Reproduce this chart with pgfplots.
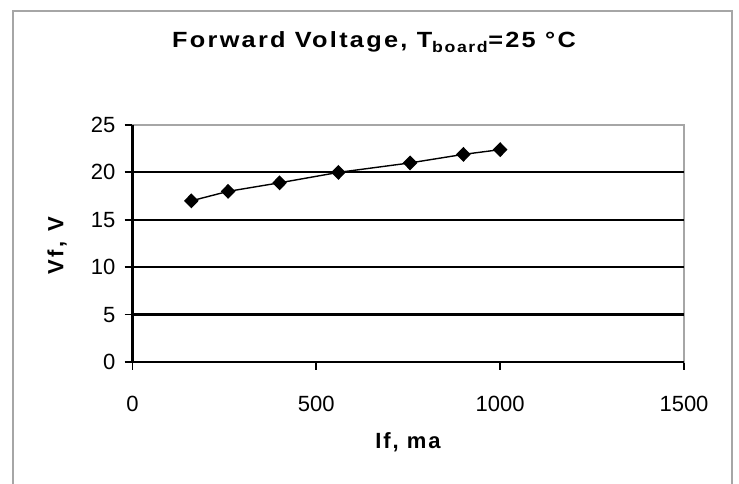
\documentclass[border=0pt]{standalone}
\usepackage{fontspec}
\setmainfont{Liberation Sans}
\usepackage{pgfplots}
\pgfplotsset{compat=1.18}

\begin{document}
\begin{tikzpicture}[x=1pt,y=1pt]
\path[use as bounding box] (0,0) rectangle (739,484);
\draw[gray!70,line width=2pt] (13,0) -- (13,473) -- (732,473) -- (732,0);
\begin{axis}[
  at={(132.5pt,122pt)}, anchor=south west,
  scale only axis, width=551.5pt, height=237pt,
  xmin=0, xmax=1500, ymin=0, ymax=25,
  xtick={0,500,1000,1500}, ytick={0,5,10,15,20,25},
  axis line style={draw=gray!70,line width=1.8pt},
  tick align=outside, major tick length=8pt,
  tick style={black,line width=1.8pt},
  xtick pos=bottom, ytick pos=left,
  /pgf/number format/assume math mode=true,
  /pgf/number format/1000 sep={},
  tick label style={font=\fontsize{22}{24}\selectfont},
  yticklabel style={inner xsep=0pt, xshift=-9pt},
  xticklabel style={anchor=base, yshift=-42pt},
  clip=false,
]
\foreach \v in {5,10,15,20} {
  \edef\tmp{\noexpand\draw[black,line width=2.2pt] (axis cs:0,\v) -- (axis cs:1500,\v);}
  \tmp
}
\draw[black,line width=2.3pt] (axis cs:0,25) -- (axis cs:0,0) -- (axis cs:1500,0);
\addplot[black,line width=1.4pt,mark=diamond*,mark size=6.5pt,mark options={xscale=1.3}]
  coordinates {(160,17) (260,18) (400,18.9) (560,20) (755,21) (900,21.9) (1000,22.4)};
\end{axis}
\node[anchor=base,xscale=1.15,font=\bfseries\fontsize{22}{24}\selectfont\addfontfeatures{LetterSpace=9}] at (374,436) {Forward Voltage, T\textsubscript{board}=25 °C};
\node[font=\bfseries\fontsize{22}{24}\selectfont\addfontfeatures{LetterSpace=9}] at (408,42) {If, ma};
\node[font=\bfseries\fontsize{22}{24}\selectfont\addfontfeatures{LetterSpace=13},rotate=90] at (57,238) {Vf, V};
\end{tikzpicture}
\end{document}
